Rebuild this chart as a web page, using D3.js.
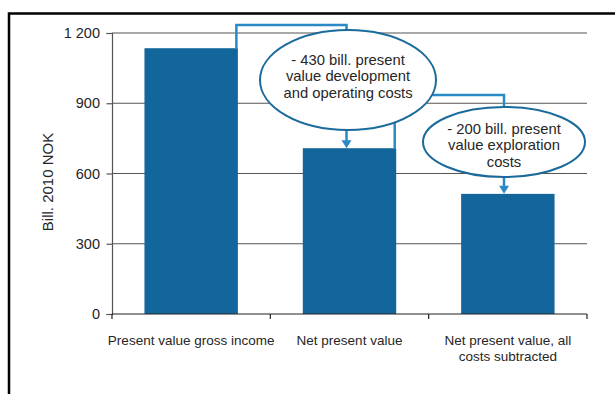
<!DOCTYPE html>
<html><head><meta charset="utf-8">
<script src="https://cdn.jsdelivr.net/npm/d3@7"></script>
<style>body{margin:0;background:#fff}svg{display:block;font-family:"Liberation Sans",Arial,sans-serif}</style>
</head><body><svg id="c" width="615" height="394"></svg>
<script>
const categories = ["Present value gross income", "Net present value", "Net present value, all costs subtracted"];
const values = [1135, 708, 513];
const yTicks = [0, 300, 600, 900, 1200];
const yTickLabels = ["0", "300", "600", "900", "1 200"];
const xLabelLines = [["Present value gross income"], ["Net present value"], ["Net present value, all", "costs subtracted"]];
const yTitle = "Bill. 2010 NOK";
const callouts = [
  ["- 430 bill. present", "value development", "and operating costs"],
  ["- 200 bill. present", "value exploration", "costs"]
];

const svg = d3.select("#c");
const barColor = "#13669b", connColor = "#2a8ac6", ellColor = "#1b6a9c", txt = "#262626";
const m = {l:112, r:587, t:33, b:314};
const x = d3.scaleBand().domain(categories).range([m.l, m.r]).paddingInner(0.41).paddingOuter(0.205);
const y = d3.scaleLinear().domain([0, 1200]).range([m.b, m.t]);

function sText(parent, tx, ty, sx, size, lines, lh, anchor, rot){
  const g = parent.append("g").attr("transform", `translate(${tx},${ty})` + (rot?` rotate(${rot})`:"") + ` scale(${sx},1)`);
  const t = g.append("text").attr("text-anchor", anchor || "middle").attr("font-size", size).attr("fill", txt);
  lines.forEach((s,j)=>t.append("tspan").attr("x",0).attr("y", j*lh).text(s));
  return g;
}

// frame
svg.append("path").attr("d","M9,394V13.5H615").attr("fill","none").attr("stroke","#000").attr("stroke-width",2.5);

// gridlines
svg.append("g").selectAll("line").data(yTicks.slice(1)).join("line")
  .attr("x1", m.l).attr("x2", m.r).attr("y1", d=>y(d)).attr("y2", d=>y(d))
  .attr("stroke","#555").attr("stroke-width",1.2);

// y axis
const ya = svg.append("g").attr("transform",`translate(${m.l},0)`)
  .call(d3.axisLeft(y).tickValues(yTicks).tickFormat((d,i)=>yTickLabels[i]).tickSize(5.5));
ya.select(".domain").attr("stroke","#555").attr("stroke-width",1.2);
ya.selectAll(".tick line").attr("stroke","#555").attr("stroke-width",1.2);
ya.selectAll(".tick text").attr("font-size",14.5).attr("fill",txt).attr("font-family","Liberation Sans, Arial, sans-serif")
  .attr("x", -12);

sText(svg, 52.5, 182, 1, 15, [yTitle], 0, "middle", -90);

// bars
svg.append("g").selectAll("rect").data(values).join("rect")
  .attr("x",(d,i)=>x(categories[i])).attr("width",x.bandwidth())
  .attr("y",d=>y(d)).attr("height",d=>y(0)-y(d)).attr("fill",barColor);

// x axis
const xa = svg.append("g");
xa.append("line").attr("x1",m.l).attr("x2",m.r).attr("y1",y(0)).attr("y2",y(0)).attr("stroke","#222").attr("stroke-width",1.2);
const xb = d3.range(categories.length+1).map(i=>m.l + i*(m.r-m.l)/categories.length);
xa.selectAll("line.t").data(xb).join("line").attr("class","t")
  .attr("x1",d=>d).attr("x2",d=>d).attr("y1",y(0)).attr("y2",y(0)+5).attr("stroke","#222").attr("stroke-width",1.2);
categories.forEach((c,i)=>{
  sText(svg, x(c)+x.bandwidth()/2, 345, 1, 13.5, xLabelLines[i], 16, "middle");
});

// connectors
const c1x = 346.5, c2x = 504;
const bx1 = x(categories[0])+x.bandwidth()-1.5, bx2 = x(categories[1])+x.bandwidth()-1.5;
svg.append("path").attr("d",`M${bx1},${y(values[0])}V25H${c1x}V40`).attr("fill","none").attr("stroke",connColor).attr("stroke-width",2.5);
svg.append("path").attr("d",`M${bx2},${y(values[1])}V95H${c2x}V115`).attr("fill","none").attr("stroke",connColor).attr("stroke-width",2.5);

function arrow(xx, y0, y1){
  svg.append("line").attr("x1",xx).attr("x2",xx).attr("y1",y0).attr("y2",y1-5).attr("stroke",connColor).attr("stroke-width",2.5);
  svg.append("path").attr("d",`M${xx-5},${y1-8}L${xx+5},${y1-8}L${xx},${y1}Z`).attr("fill",connColor);
}
arrow(c1x, 125, y(values[1]));
arrow(c2x, 172, y(values[2]));

// ellipses (tm = centre of the middle text line)
const ells = [{cx:348, cy:80, rx:88, ry:50, tm:76}, {cx:504, cy:142, rx:81, ry:35, tm:145}];
ells.forEach((e,i)=>{
  svg.append("ellipse").attr("cx",e.cx).attr("cy",e.cy).attr("rx",e.rx).attr("ry",e.ry)
    .attr("fill","#fff").attr("stroke",ellColor).attr("stroke-width",2);
  sText(svg, e.cx, e.tm - 16.5 + 5, 1, 14.8, callouts[i], 16.5, "middle");
});
</script></body></html>
